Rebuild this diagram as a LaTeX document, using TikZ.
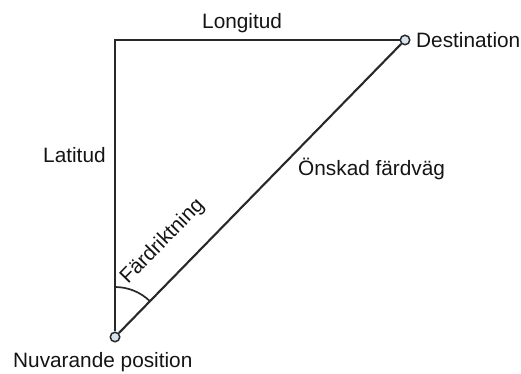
\documentclass[tikz,border=0pt]{standalone}
\usepackage{fontspec}
\setmainfont{Liberation Sans}
\usepackage{tikz}
\usetikzlibrary{positioning,calc}
\definecolor{linegray}{RGB}{40,40,40}
\definecolor{textgray}{RGB}{20,20,20}
\definecolor{dotblue}{RGB}{214,228,240}
\tikzset{
    waypoint/.style={circle, draw=linegray, fill=dotblue, line width=1.5pt, inner sep=0pt, minimum size=9.5pt},
    leg/.style={draw=linegray, line width=2.1pt},
    caption/.style={font=\fontsize{20.8}{25}\selectfont, text=textgray, inner sep=0pt, anchor=base west}
}

\begin{document}
\begin{tikzpicture}[x=1pt, y=1pt]
    \useasboundingbox (0,0) rectangle (521,374);

    % Points of the triangle
    \node[waypoint] (pos) at (115,37) {};
    \node[waypoint] (dest) at (405,334) {};
    \coordinate (corner) at (115,334);

    % Legs and desired route
    \draw[leg] (dest) -- (corner) -- (pos);
    \draw[leg] (pos) -- (dest);

    % Heading angle
    \draw[leg, line width=1.7pt] ($(pos)+(90:50)$) arc (90:45.7:50);

    % Labels
    \node[caption] (longlabel) at (202,345) {Longitud};
    \node[caption] (destlabel) at (416,326) {Destination};
    \node[caption] (latlabel) at (43,211) {Latitud};
    \node[caption] (routelabel) at (298,198) {Önskad färdväg};
    \node[caption] (poslabel) at (13,6) {Nuvarande position};
    \node[caption, rotate=45.7] (headlabel) at (128,89) {Färdriktning};
\end{tikzpicture}
\end{document}
